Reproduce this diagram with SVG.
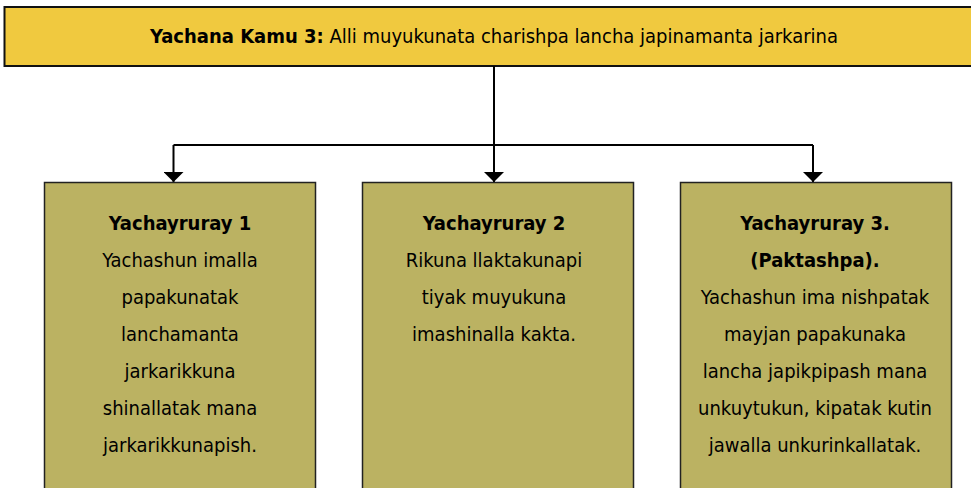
<svg xmlns="http://www.w3.org/2000/svg" width="971" height="488" viewBox="0 0 971 488">
<style>
.t{font-family:"DejaVu Sans Condensed","Liberation Sans Narrow",sans-serif;font-size:20px;fill:#000;text-anchor:middle}
.b{font-weight:bold}
.box{fill:#bbb262;stroke:#222;stroke-width:1.5}
.ln{stroke:#000;stroke-width:2;fill:none}
</style>
<defs>
<marker id="ah" viewBox="0 0 10 20" refX="10" refY="10" markerWidth="10" markerHeight="20" markerUnits="userSpaceOnUse" orient="auto">
<path d="M0,0 L10,10 L0,20 Z" fill="#000"/>
</marker>
</defs>
<g id="header">
<rect x="4.5" y="7" width="975" height="59" fill="#f0c93f" stroke="#111" stroke-width="2"/>
<text class="t" x="494" y="43"><tspan class="b">Yachana Kamu 3:</tspan> Alli muyukunata charishpa lancha japinamanta jarkarina</text>
</g>
<g id="connectors">
<line class="ln" x1="494" y1="66" x2="494" y2="145"/>
<line class="ln" x1="173.5" y1="145" x2="813" y2="145"/>
<path class="ln" d="M173.5,145 V182" marker-end="url(#ah)"/>
<path class="ln" d="M494,145 V182" marker-end="url(#ah)"/>
<path class="ln" d="M813,145 V182" marker-end="url(#ah)"/>
</g>
<g id="node1">
<rect class="box" x="44.5" y="182.5" width="271" height="320"/>
<text class="t" x="180" y="230"><tspan class="b">Yachayruray 1</tspan><tspan x="180" dy="37">Yachashun imalla</tspan><tspan x="180" dy="37">papakunatak</tspan><tspan x="180" dy="37">lanchamanta</tspan><tspan x="180" dy="37">jarkarikkuna</tspan><tspan x="180" dy="37">shinallatak mana</tspan><tspan x="180" dy="37">jarkarikkunapish.</tspan></text>
</g>
<g id="node2">
<rect class="box" x="362.5" y="182.5" width="271" height="320"/>
<text class="t" x="494" y="230"><tspan class="b">Yachayruray 2</tspan><tspan x="494" dy="37">Rikuna llaktakunapi</tspan><tspan x="494" dy="37">tiyak muyukuna</tspan><tspan x="494" dy="37">imashinalla kakta.</tspan></text>
</g>
<g id="node3">
<rect class="box" x="680.5" y="182.5" width="271" height="320"/>
<text class="t" x="815" y="230"><tspan class="b">Yachayruray 3.</tspan><tspan class="b" x="815" dy="37">(Paktashpa).</tspan><tspan x="815" dy="37">Yachashun ima nishpatak</tspan><tspan x="815" dy="37">mayjan papakunaka</tspan><tspan x="815" dy="37">lancha japikpipash mana</tspan><tspan x="815" dy="37">unkuytukun, kipatak kutin</tspan><tspan x="815" dy="37">jawalla unkurinkallatak.</tspan></text>
</g>
</svg>
